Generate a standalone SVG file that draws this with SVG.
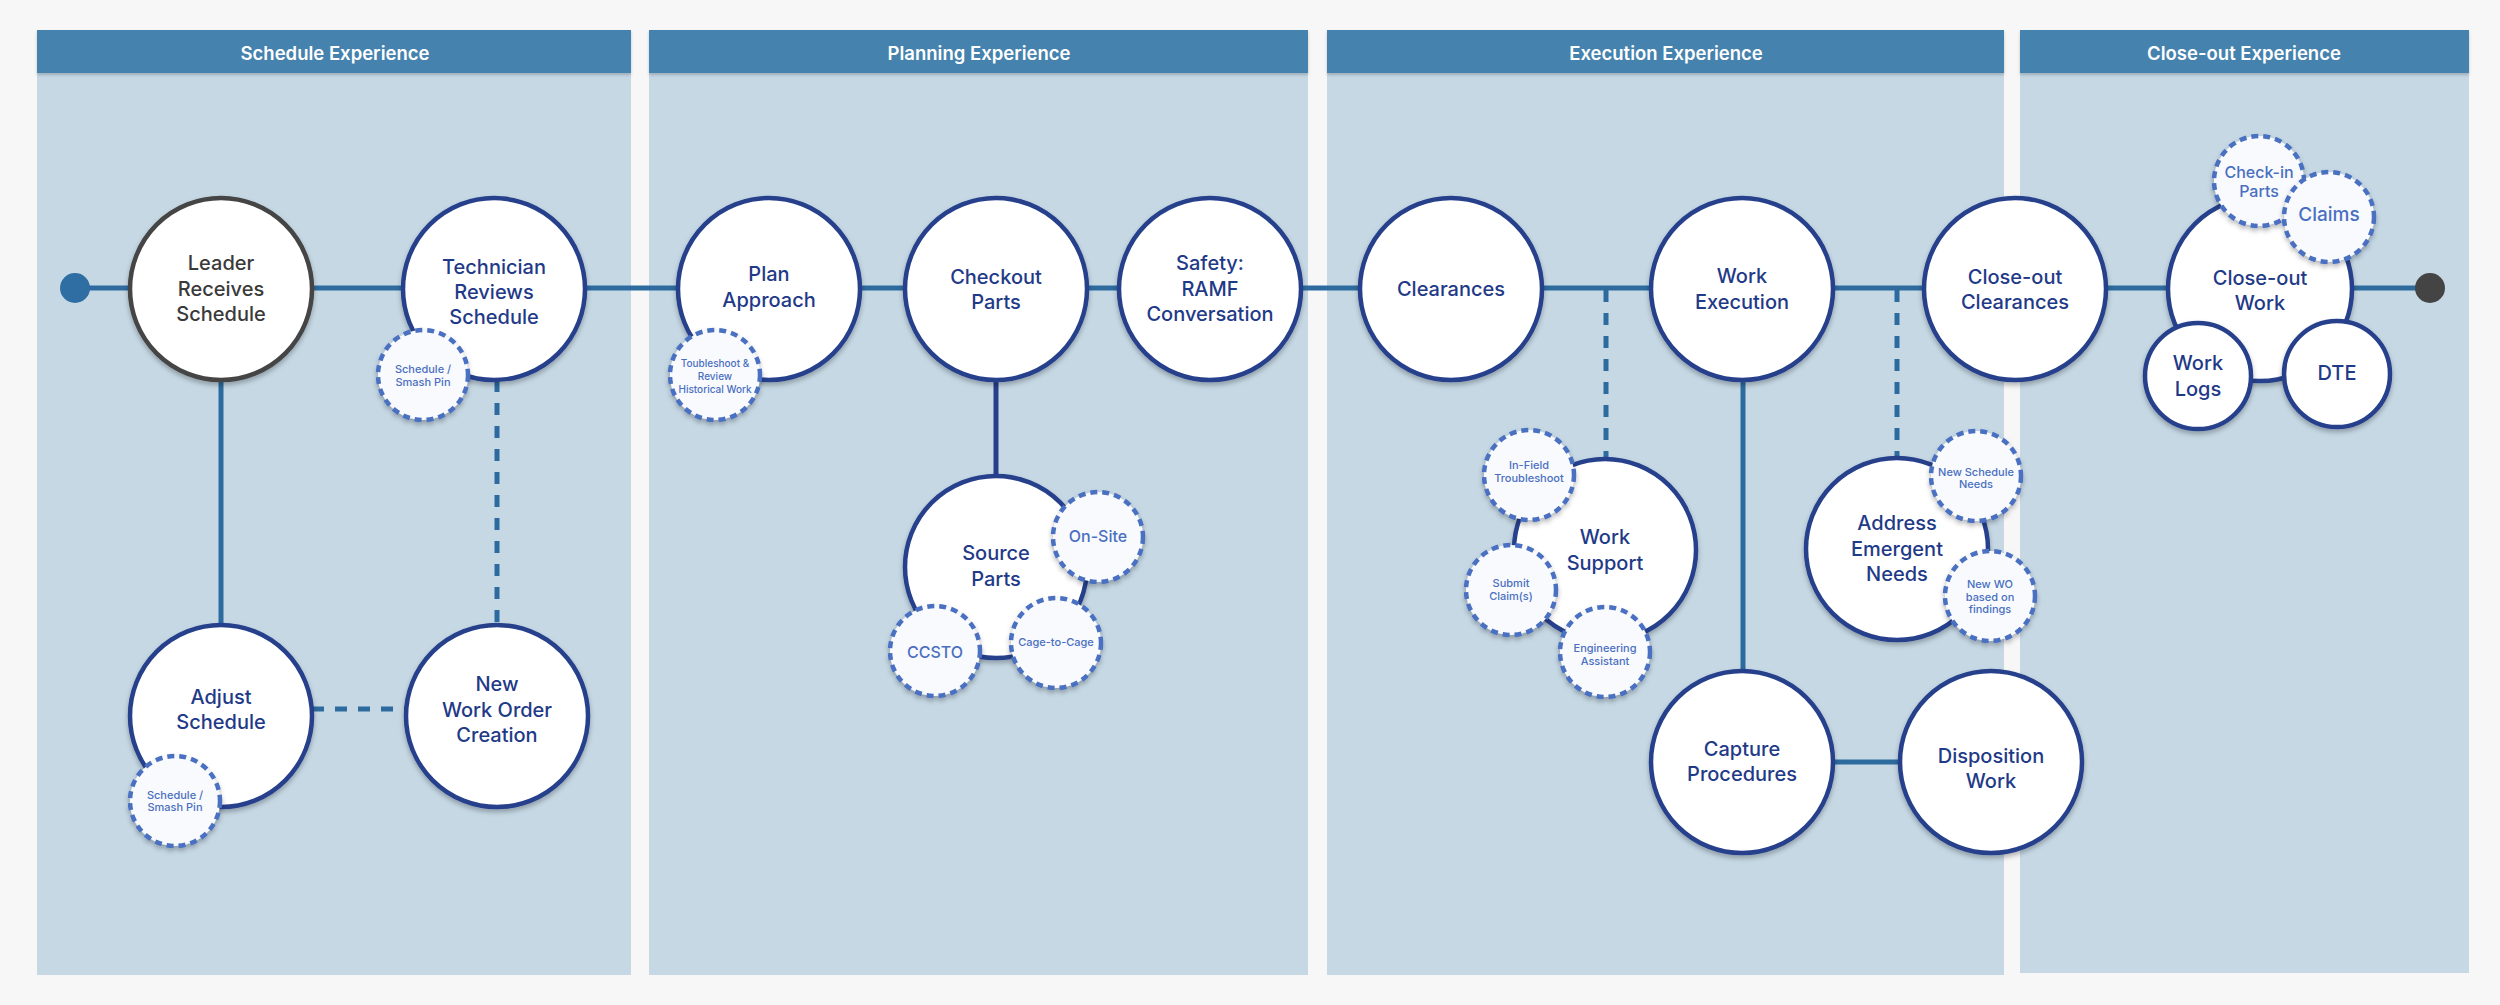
<svg xmlns="http://www.w3.org/2000/svg" width="2500" height="1005" viewBox="0 0 2500 1005">
<defs>
<filter id="sh" x="-20%" y="-20%" width="140%" height="140%">
<feDropShadow dx="0" dy="3" stdDeviation="2.5" flood-color="#000" flood-opacity="0.28"/>
</filter>
<filter id="hsh" x="-5%" y="-20%" width="110%" height="160%">
<feDropShadow dx="0" dy="2" stdDeviation="1.5" flood-color="#000" flood-opacity="0.2"/>
</filter>
<style>
.panel{fill:#c5d8e4}
.head{fill:#4482ad}
.htxt{font-family:Inter,"Noto Sans",sans-serif;font-size:18.5px;font-weight:600;fill:#ffffff;text-anchor:middle}
.node{fill:#ffffff;stroke:#253f8c;stroke-width:4.5;filter:url(#sh)}
.lead{fill:#ffffff;stroke:#444444;stroke-width:4.5;filter:url(#sh)}
.sub{fill:#f8fafd;stroke:#4a6fc1;stroke-width:4.5;stroke-dasharray:7 5;filter:url(#sh)}
.t{font-family:Inter,"Noto Sans",sans-serif;font-size:20px;font-weight:500;fill:#1f3a87;text-anchor:middle}
.tg{font-family:Inter,"Noto Sans",sans-serif;font-size:20px;font-weight:500;fill:#3a3a3a;text-anchor:middle}
.ts{font-family:Inter,"Noto Sans",sans-serif;font-size:11px;font-weight:500;fill:#4a6fc1;text-anchor:middle}
.tx{font-family:Inter,"Noto Sans",sans-serif;font-size:10px;font-weight:500;fill:#4a6fc1;text-anchor:middle}
.tm{font-family:Inter,"Noto Sans",sans-serif;font-size:16px;font-weight:500;fill:#4a6fc1;text-anchor:middle}
.c{stroke:#2d6b9f;stroke-width:5;fill:none}
.cd{stroke:#2d6b9f;stroke-width:5;fill:none;stroke-dasharray:12 11}
.cn{stroke:#253f8c;stroke-width:5;fill:none}
</style>
</defs>
<rect x="0" y="0" width="2500" height="1005" fill="#f7f7f7"/>
<g id="lanes">
<rect class="panel" x="37" y="30" width="594" height="945"/>
<rect class="head" x="37" y="30" width="594" height="43" filter="url(#hsh)"/>
<text class="htxt" x="335" y="60">Schedule Experience</text>
<rect class="panel" x="649" y="30" width="659" height="945"/>
<rect class="head" x="649" y="30" width="659" height="43" filter="url(#hsh)"/>
<text class="htxt" x="979" y="60">Planning Experience</text>
<rect class="panel" x="1327" y="30" width="677" height="945"/>
<rect class="head" x="1327" y="30" width="677" height="43" filter="url(#hsh)"/>
<text class="htxt" x="1666" y="60">Execution Experience</text>
<rect class="panel" x="2020" y="30" width="449" height="943"/>
<rect class="head" x="2020" y="30" width="449" height="43" filter="url(#hsh)"/>
<text class="htxt" x="2244" y="60">Close-out Experience</text>
</g>
<g id="connectors">
<line class="c" x1="75" y1="288" x2="2430" y2="288"/>
<line class="c" x1="221" y1="380" x2="221" y2="624"/>
<line class="cd" x1="497" y1="380" x2="497" y2="624"/>
<line class="cd" x1="312" y1="709" x2="406" y2="709"/>
<line class="cn" x1="996" y1="380" x2="996" y2="476"/>
<line class="cd" x1="1606" y1="290" x2="1606" y2="459"/>
<line class="c" x1="1743" y1="380" x2="1743" y2="671"/>
<line class="cd" x1="1897" y1="290" x2="1897" y2="459"/>
<line class="c" x1="1833" y1="762" x2="1900" y2="762"/>
</g>
<g id="start"><circle cx="75" cy="288" r="15" fill="#2f6ea3"/></g>
<g id="end"><circle cx="2430" cy="288" r="15" fill="#444444"/></g>
<g id="leader-receives-schedule">
<circle class="lead" cx="221" cy="289" r="91"/>
<text class="tg" x="221" y="270">Leader</text>
<text class="tg" x="221" y="296">Receives</text>
<text class="tg" x="221" y="321">Schedule</text>
</g>
<g id="technician-reviews-schedule">
<circle class="node" cx="494" cy="289" r="91"/>
<text class="t" x="494" y="274">Technician</text>
<text class="t" x="494" y="299">Reviews</text>
<text class="t" x="494" y="324">Schedule</text>
<circle class="sub" cx="423" cy="375" r="45"/>
<text class="ts" x="423" y="373">Schedule /</text>
<text class="ts" x="423" y="386">Smash Pin</text>
</g>
<g id="adjust-schedule">
<circle class="node" cx="221" cy="716" r="91"/>
<text class="t" x="221" y="704">Adjust</text>
<text class="t" x="221" y="729">Schedule</text>
<circle class="sub" cx="175" cy="801" r="45"/>
<text class="ts" x="175" y="799">Schedule /</text>
<text class="ts" x="175" y="811">Smash Pin</text>
</g>
<g id="new-work-order-creation">
<circle class="node" cx="497" cy="716" r="91"/>
<text class="t" x="497" y="691">New</text>
<text class="t" x="497" y="717">Work Order</text>
<text class="t" x="497" y="742">Creation</text>
</g>
<g id="plan-approach">
<circle class="node" cx="769" cy="289" r="91"/>
<text class="t" x="769" y="281">Plan</text>
<text class="t" x="769" y="307">Approach</text>
<circle class="sub" cx="715" cy="375" r="45"/>
<text class="tx" x="715" y="367">Toubleshoot &amp;</text>
<text class="tx" x="715" y="380">Review</text>
<text class="tx" x="715" y="393">Historical Work</text>
</g>
<g id="checkout-parts">
<circle class="node" cx="996" cy="289" r="91"/>
<text class="t" x="996" y="284">Checkout</text>
<text class="t" x="996" y="309">Parts</text>
</g>
<g id="safety-ramf">
<circle class="node" cx="1210" cy="289" r="91"/>
<text class="t" x="1210" y="270">Safety:</text>
<text class="t" x="1210" y="296">RAMF</text>
<text class="t" x="1210" y="321">Conversation</text>
</g>
<g id="source-parts">
<circle class="node" cx="996" cy="567" r="91"/>
<text class="t" x="996" y="560">Source</text>
<text class="t" x="996" y="586">Parts</text>
<circle class="sub" cx="1098" cy="537" r="45"/>
<text class="tm" x="1098" y="542">On-Site</text>
<circle class="sub" cx="935" cy="651" r="45"/>
<text class="tm" x="935" y="658">CCSTO</text>
<circle class="sub" cx="1056" cy="643" r="45"/>
<text class="ts" x="1056" y="646">Cage-to-Cage</text>
</g>
<g id="clearances">
<circle class="node" cx="1451" cy="289" r="91"/>
<text class="t" x="1451" y="296">Clearances</text>
</g>
<g id="work-execution">
<circle class="node" cx="1742" cy="289" r="91"/>
<text class="t" x="1742" y="283">Work</text>
<text class="t" x="1742" y="309">Execution</text>
</g>
<g id="work-support">
<circle class="node" cx="1605" cy="550" r="91"/>
<text class="t" x="1605" y="544">Work</text>
<text class="t" x="1605" y="570">Support</text>
<circle class="sub" cx="1529" cy="475" r="45"/>
<text class="ts" x="1529" y="469">In-Field</text>
<text class="ts" x="1529" y="482">Troubleshoot</text>
<circle class="sub" cx="1511" cy="590" r="45"/>
<text class="ts" x="1511" y="587">Submit</text>
<text class="ts" x="1511" y="600">Claim(s)</text>
<circle class="sub" cx="1605" cy="652" r="45"/>
<text class="ts" x="1605" y="652">Engineering</text>
<text class="ts" x="1605" y="665">Assistant</text>
</g>
<g id="capture-procedures">
<circle class="node" cx="1742" cy="762" r="91"/>
<text class="t" x="1742" y="756">Capture</text>
<text class="t" x="1742" y="781">Procedures</text>
</g>
<g id="disposition-work">
<circle class="node" cx="1991" cy="762" r="91"/>
<text class="t" x="1991" y="763">Disposition</text>
<text class="t" x="1991" y="788">Work</text>
</g>
<g id="address-emergent-needs">
<circle class="node" cx="1897" cy="549" r="91"/>
<text class="t" x="1897" y="530">Address</text>
<text class="t" x="1897" y="556">Emergent</text>
<text class="t" x="1897" y="581">Needs</text>
<circle class="sub" cx="1976" cy="476" r="45"/>
<text class="ts" x="1976" y="476">New Schedule</text>
<text class="ts" x="1976" y="488">Needs</text>
<circle class="sub" cx="1990" cy="596" r="45"/>
<text class="ts" x="1990" y="588">New WO</text>
<text class="ts" x="1990" y="601">based on</text>
<text class="ts" x="1990" y="613">findings</text>
</g>
<g id="close-out-clearances">
<circle class="node" cx="2015" cy="289" r="91"/>
<text class="t" x="2015" y="284">Close-out</text>
<text class="t" x="2015" y="309">Clearances</text>
</g>
<g id="close-out-work">
<circle class="node" cx="2260" cy="289" r="92"/>
<text class="t" x="2260" y="285">Close-out</text>
<text class="t" x="2260" y="310">Work</text>
<circle class="sub" cx="2259" cy="181" r="45"/>
<text class="tm" x="2259" y="178">Check-in</text>
<text class="tm" x="2259" y="197">Parts</text>
<circle class="sub" cx="2329" cy="217" r="45"/>
<text class="tm" x="2329" y="221" style="font-size:19px">Claims</text>
<circle class="node" cx="2198" cy="376" r="53"/>
<text class="t" x="2198" y="370">Work</text>
<text class="t" x="2198" y="396">Logs</text>
<circle class="node" cx="2337" cy="374" r="53"/>
<text class="t" x="2337" y="380">DTE</text>
</g>
</svg>
